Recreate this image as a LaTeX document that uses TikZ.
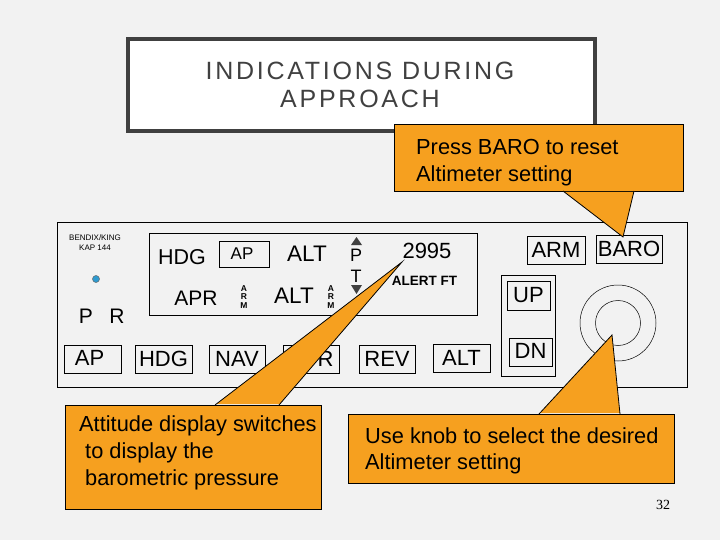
\documentclass[tikz,border=0pt]{standalone}
\usepackage{fontspec}
\setmainfont{Liberation Sans}
\newfontfamily\titlefont[LetterSpace=11]{Liberation Sans}
\newfontfamily\pagefont{Liberation Serif}
\definecolor{slidebg}{HTML}{F2F2F2}
\definecolor{callorange}{HTML}{F6A01F}
\definecolor{framegray}{HTML}{404040}
\definecolor{ledblue}{HTML}{2E9BD0}
\begin{document}
\begin{tikzpicture}[x=1pt,y=-1pt,
btn/.style={draw=black,line width=0.7pt,minimum width=#1,minimum height=28pt,inner sep=0pt,font=\fontsize{22}{22}\selectfont},
lbl/.style={inner sep=0pt,font=\fontsize{#1}{#1}\selectfont},
callout/.style={draw=black,line width=0.8pt,fill=callorange},
note/.style={inner sep=0pt,align=left,anchor=north west,font=\fontsize{21.8}{27}\selectfont},
armmark/.style={inner sep=0pt,align=center,font=\fontsize{8.5}{8.5}\selectfont\bfseries},
tri/.style={fill=framegray,draw=none},
tipline/.style={line width=0.8pt,line join=miter}]
\useasboundingbox (0,0) rectangle (720,540);
\fill[slidebg] (0,0) rectangle (720,540);
% title
\node[draw=framegray,fill=white,line width=3.5pt,minimum width=467pt,minimum height=92pt,inner sep=0pt] (titlebox) at (361.5,85) {};
\node[text=black!75,align=center,inner sep=0pt,font=\fontsize{25}{28}\titlefont] (title) at (360,85) {INDICATIONS DURING\\APPROACH};
% panel
\node[draw=black,line width=0.7pt,minimum width=630pt,minimum height=165pt,inner sep=0pt] (panel) at (372.5,304.5) {};
\node[draw=black,line width=0.7pt,minimum width=328pt,minimum height=82pt,inner sep=0pt] (display) at (313,274) {};
\node[align=center,inner sep=0pt,font=\fontsize{8}{10}\selectfont] (brand) at (95,243) {BENDIX/KING\\KAP 144};
\node[circle,draw=black!60,fill=ledblue,line width=0.5pt,minimum size=7pt,inner sep=0pt] (led) at (96,279) {};
\node[lbl=21] (pilot) at (86,316) {P};
\node[lbl=21] (roll) at (117,316) {R};
% display
\node[lbl=21.5] (hdgtxt) at (182,257) {HDG};
\node[btn=50pt,minimum height=26pt,font=\fontsize{17}{17}\selectfont] (apbox) at (244,254) {\hspace*{-4pt}\raisebox{1pt}{AP}};
\node[lbl=22.5] (alttxt) at (307,254) {ALT};
\node[lbl=21] (aprtxt) at (196,298) {APR};
\node[lbl=22.5] (altarmtxt) at (294,296) {ALT};
\node[armmark] (armone) at (244,297) {A\\R\\M};
\node[armmark] (armtwo) at (331,297) {A\\R\\M};
\node[lbl=18] (ptxt) at (356,255) {P};
\node[lbl=18] (ttxt) at (356,276) {T};
\fill[tri] (351,245) -- (356.5,237) -- (362,245) -- cycle;
\fill[tri] (351,285) -- (356.5,294) -- (362,285) -- cycle;
\node[lbl=22] (altset) at (427,251) {2995};
\node[inner sep=0pt,font=\fontsize{13.5}{13.5}\selectfont\bfseries] (alertft) at (424.5,281) {ALERT FT};
% buttons
\node[btn=57pt] (apbtn) at (92.5,359) {\hspace*{-6pt}\raisebox{3pt}{AP}};
\node[btn=57pt] (hdgbtn) at (163.5,359) {\raisebox{-1pt}{HDG}};
\node[btn=56pt] (navbtn) at (237,359) {\raisebox{-2pt}{NAV}};
\node[btn=56pt] (aprbtn) at (311,359) {\raisebox{-1pt}{APR}};
\node[btn=56pt] (revbtn) at (387,359) {\raisebox{-1pt}{REV}};
\node[btn=57pt] (altbtn) at (461.5,358) {\raisebox{1pt}{ALT}};
\node[btn=58pt] (armbtn) at (556,250) {ARM};
\node[btn=66pt] (barobtn) at (629,249) {BARO};
\node[draw=black,line width=0.7pt,minimum width=54pt,minimum height=101pt,inner sep=0pt] (updn) at (528,325.5) {};
\node[btn=43pt,minimum height=29pt] (upbtn) at (528.5,295.5) {UP};
\node[btn=43pt] (dnbtn) at (530.5,352) {\raisebox{2pt}{DN}};
\node[circle,draw=black,line width=0.5pt,minimum size=76pt,inner sep=0pt] (knobout) at (618,323) {};
\node[circle,draw=black,line width=0.5pt,minimum size=45pt,inner sep=0pt] (knobin) at (618,323) {};
% callouts
\node[callout,minimum width=289pt,minimum height=67pt,inner sep=0pt] (press) at (538.5,157.5) {};
\coordinate (presstip) at (623,237);
\coordinate (pressa) at (563,191);
\coordinate (pressb) at (634,191);
\fill[callorange] (pressa) -- (presstip) -- (pressb) -- ([yshift=-1pt]pressb) -- ([yshift=-1pt]pressa) -- cycle;
\draw[tipline] (pressa) -- (presstip) -- (pressb);
\node[note] (presstxt) at (416,139) {Press BARO to reset\\Altimeter setting};
\node[callout,minimum width=256pt,minimum height=104pt,inner sep=0pt] (attitude) at (193,457) {};
\coordinate (attitudetip) at (402,262);
\coordinate (attitudea) at (215,405);
\coordinate (attitudeb) at (279,405);
\fill[callorange] (attitudea) -- (attitudetip) -- (attitudeb) -- ([yshift=1pt]attitudeb) -- ([yshift=1pt]attitudea) -- cycle;
\draw[tipline] (attitudea) -- (attitudetip) -- (attitudeb);
\node[note] (attitudetxt) at (79,415) {Attitude display switches\\ \hspace*{6pt}to display the\\ \hspace*{6pt}barometric pressure};
\node[callout,minimum width=326pt,minimum height=69pt,inner sep=0pt] (knob) at (511,448.5) {};
\coordinate (knobtip) at (612,335);
\coordinate (knoba) at (539,414);
\coordinate (knobb) at (620,414);
\fill[callorange] (knoba) -- (knobtip) -- (knobb) -- ([yshift=1pt]knobb) -- ([yshift=1pt]knoba) -- cycle;
\draw[tipline] (knoba) -- (knobtip) -- (knobb);
\node[note] (knobtxt) at (365,427) {Use knob to select the desired\\Altimeter setting};
\node[lbl=14,font=\fontsize{14}{14}\pagefont] (pagenum) at (663,505) {32};
\end{tikzpicture}
\end{document}
